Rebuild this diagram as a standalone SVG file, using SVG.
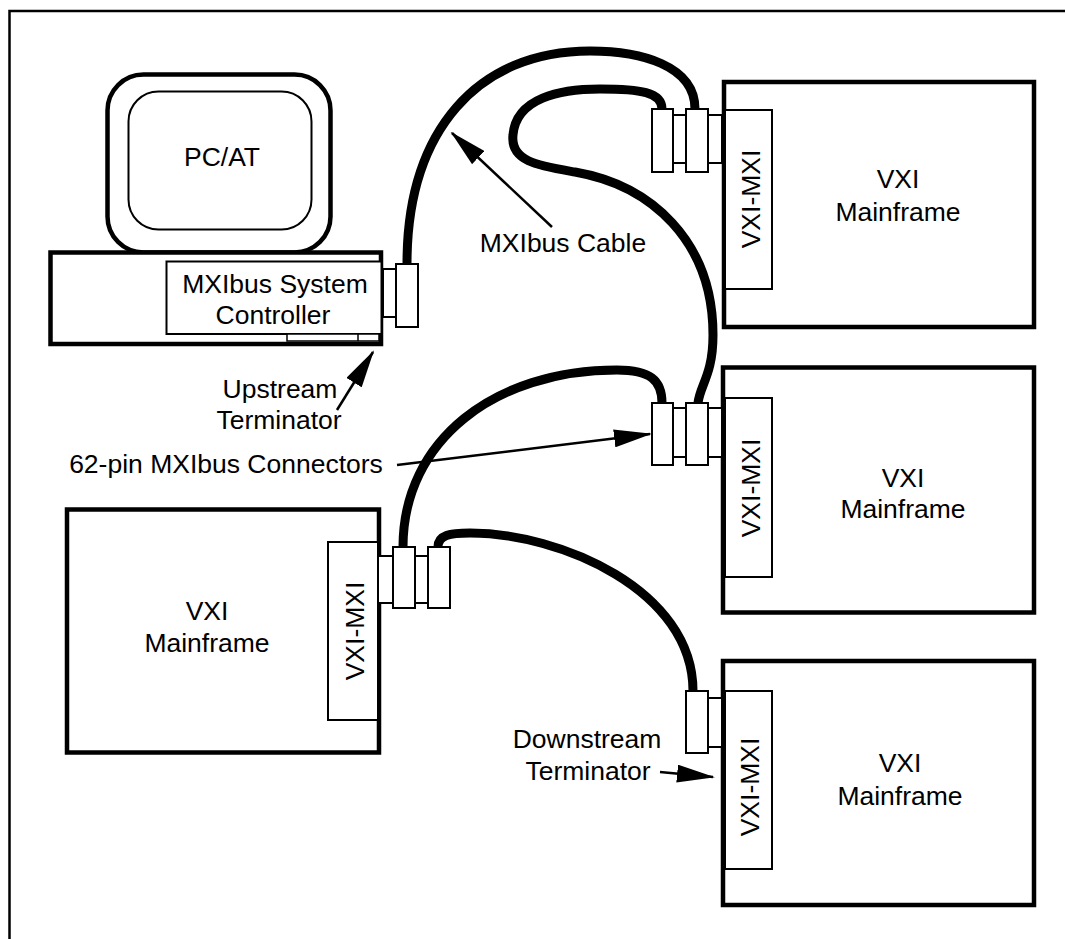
<svg xmlns="http://www.w3.org/2000/svg" width="1065" height="939" viewBox="0 0 1065 939">
<style>
.t{font-family:"Liberation Sans",Arial,sans-serif;font-size:26.5px;fill:#000}
.m{text-anchor:middle}
.frame{fill:#fff;stroke:#000;stroke-width:4.5}
.card{fill:#fff;stroke:#000;stroke-width:2}
.conn{fill:#fff;stroke:#000;stroke-width:2}
.cable{fill:none;stroke:#000;stroke-width:9}
.arrow{fill:none;stroke:#000;stroke-width:2.5;marker-end:url(#ah)}
</style>
<defs>
<marker id="ah" viewBox="0 0 38 18" refX="36" refY="9" markerWidth="38" markerHeight="18" markerUnits="userSpaceOnUse" orient="auto">
<path d="M0,0 L38,9 L0,18 Z" fill="#000"/>
</marker>
</defs>
<rect x="0" y="0" width="1065" height="939" fill="#fff"/>
<rect id="border" x="9.5" y="11" width="1100" height="1000" fill="none" stroke="#000" stroke-width="2.5"/>

<g id="pc">
<rect x="107.5" y="74.5" width="223" height="178" rx="36" class="frame" stroke-width="5"/>
<rect x="128.5" y="91.5" width="183" height="138" rx="30" fill="#fff" stroke="#000" stroke-width="2"/>
<text class="t m" x="222" y="166">PC/AT</text>
<rect x="50.5" y="252.5" width="330.5" height="91.5" class="frame"/>
</g>

<g id="controller">
<rect x="166.5" y="261.5" width="215" height="72.5" class="card"/>
<text class="t m" x="275" y="293">MXIbus System</text>
<text class="t m" x="273" y="324">Controller</text>
<rect x="287" y="334" width="92" height="7" fill="#fff" stroke="#000" stroke-width="1.5"/>
<line x1="358" y1="334" x2="358" y2="341" stroke="#000" stroke-width="1.5"/>
<rect x="383" y="269" width="13" height="48" class="conn"/>
<rect x="396" y="264" width="22" height="63" class="conn"/>
</g>

<g id="connectors">
<path class="cable" d="M 407 264 C 407 130, 478 51, 590 51 C 640 51, 695 65, 695 109"/>
<path class="cable" d="M 662 109 C 662 92, 640 89, 600 89 C 560 89, 516 98, 513 135 C 510 162, 540 166, 575 172 C 650 185, 713 240, 713 335 C 713 375, 700 385, 698 403"/>
<path class="cable" d="M 403 547 C 403 440, 495 370, 617 370 C 650 370, 662 380, 662 403"/>
<path class="cable" d="M 438 547 C 438 535, 450 533, 470 533 C 560 533, 693 590, 693 691"/>
<line class="arrow" x1="552" y1="227" x2="452" y2="133"/>
<line class="arrow" x1="337" y1="410" x2="373" y2="352"/>
<line class="arrow" x1="397" y1="465" x2="650" y2="434"/>
<line class="arrow" x1="660" y1="772" x2="713" y2="777"/>
</g>

<g id="mainframe-top">
<rect x="724" y="82" width="310" height="245" class="frame"/>
<rect x="725" y="110" width="47" height="179" class="card"/>
<text class="t m" transform="translate(760,199) rotate(-90)">VXI-MXI</text>
<text class="t m" x="898" y="188">VXI</text>
<text class="t m" x="898" y="221">Mainframe</text>
<rect x="652" y="109" width="21" height="63" class="conn"/>
<rect x="673" y="115" width="13" height="48" class="conn"/>
<rect x="686" y="109" width="22" height="63" class="conn"/>
<rect x="708" y="115" width="14" height="48" class="conn"/>
</g>

<g id="mainframe-middle">
<rect x="723" y="367.5" width="311" height="245" class="frame"/>
<rect x="725" y="398" width="47" height="179" class="card"/>
<text class="t m" transform="translate(760,488) rotate(-90)">VXI-MXI</text>
<text class="t m" x="903" y="487">VXI</text>
<text class="t m" x="903" y="518">Mainframe</text>
<rect x="652" y="403" width="21" height="62" class="conn"/>
<rect x="673" y="408" width="13" height="49" class="conn"/>
<rect x="686" y="403" width="22" height="62" class="conn"/>
<rect x="708" y="408" width="14" height="49" class="conn"/>
</g>

<g id="mainframe-bottom">
<rect x="723" y="661" width="311" height="244" class="frame"/>
<rect x="725" y="691" width="47" height="178" class="card"/>
<text class="t m" transform="translate(759,787) rotate(-90)">VXI-MXI</text>
<text class="t m" x="900" y="772">VXI</text>
<text class="t m" x="900" y="805">Mainframe</text>
<rect x="686" y="691" width="22" height="62" class="conn"/>
<rect x="708" y="698" width="14" height="49" class="conn"/>
</g>

<g id="mainframe-left">
<rect x="67" y="509.5" width="312" height="243" class="frame"/>
<rect x="328" y="542" width="50" height="178" class="card"/>
<text class="t m" transform="translate(364,631) rotate(-90)">VXI-MXI</text>
<text class="t m" x="207" y="620">VXI</text>
<text class="t m" x="207" y="652">Mainframe</text>
<rect x="378" y="556" width="15" height="47" class="conn"/>
<rect x="393" y="547" width="22" height="61" class="conn"/>
<rect x="415" y="556" width="13" height="47" class="conn"/>
<rect x="428" y="547" width="22" height="61" class="conn"/>
</g>

<g id="labels">
<text class="t m" x="563" y="252">MXIbus Cable</text>
<text class="t m" x="280" y="398">Upstream</text>
<text class="t m" x="279" y="429">Terminator</text>
<text class="t m" x="226" y="473">62-pin MXIbus Connectors</text>
<text class="t m" x="587" y="748">Downstream</text>
<text class="t m" x="588" y="780">Terminator</text>
</g>
</svg>
